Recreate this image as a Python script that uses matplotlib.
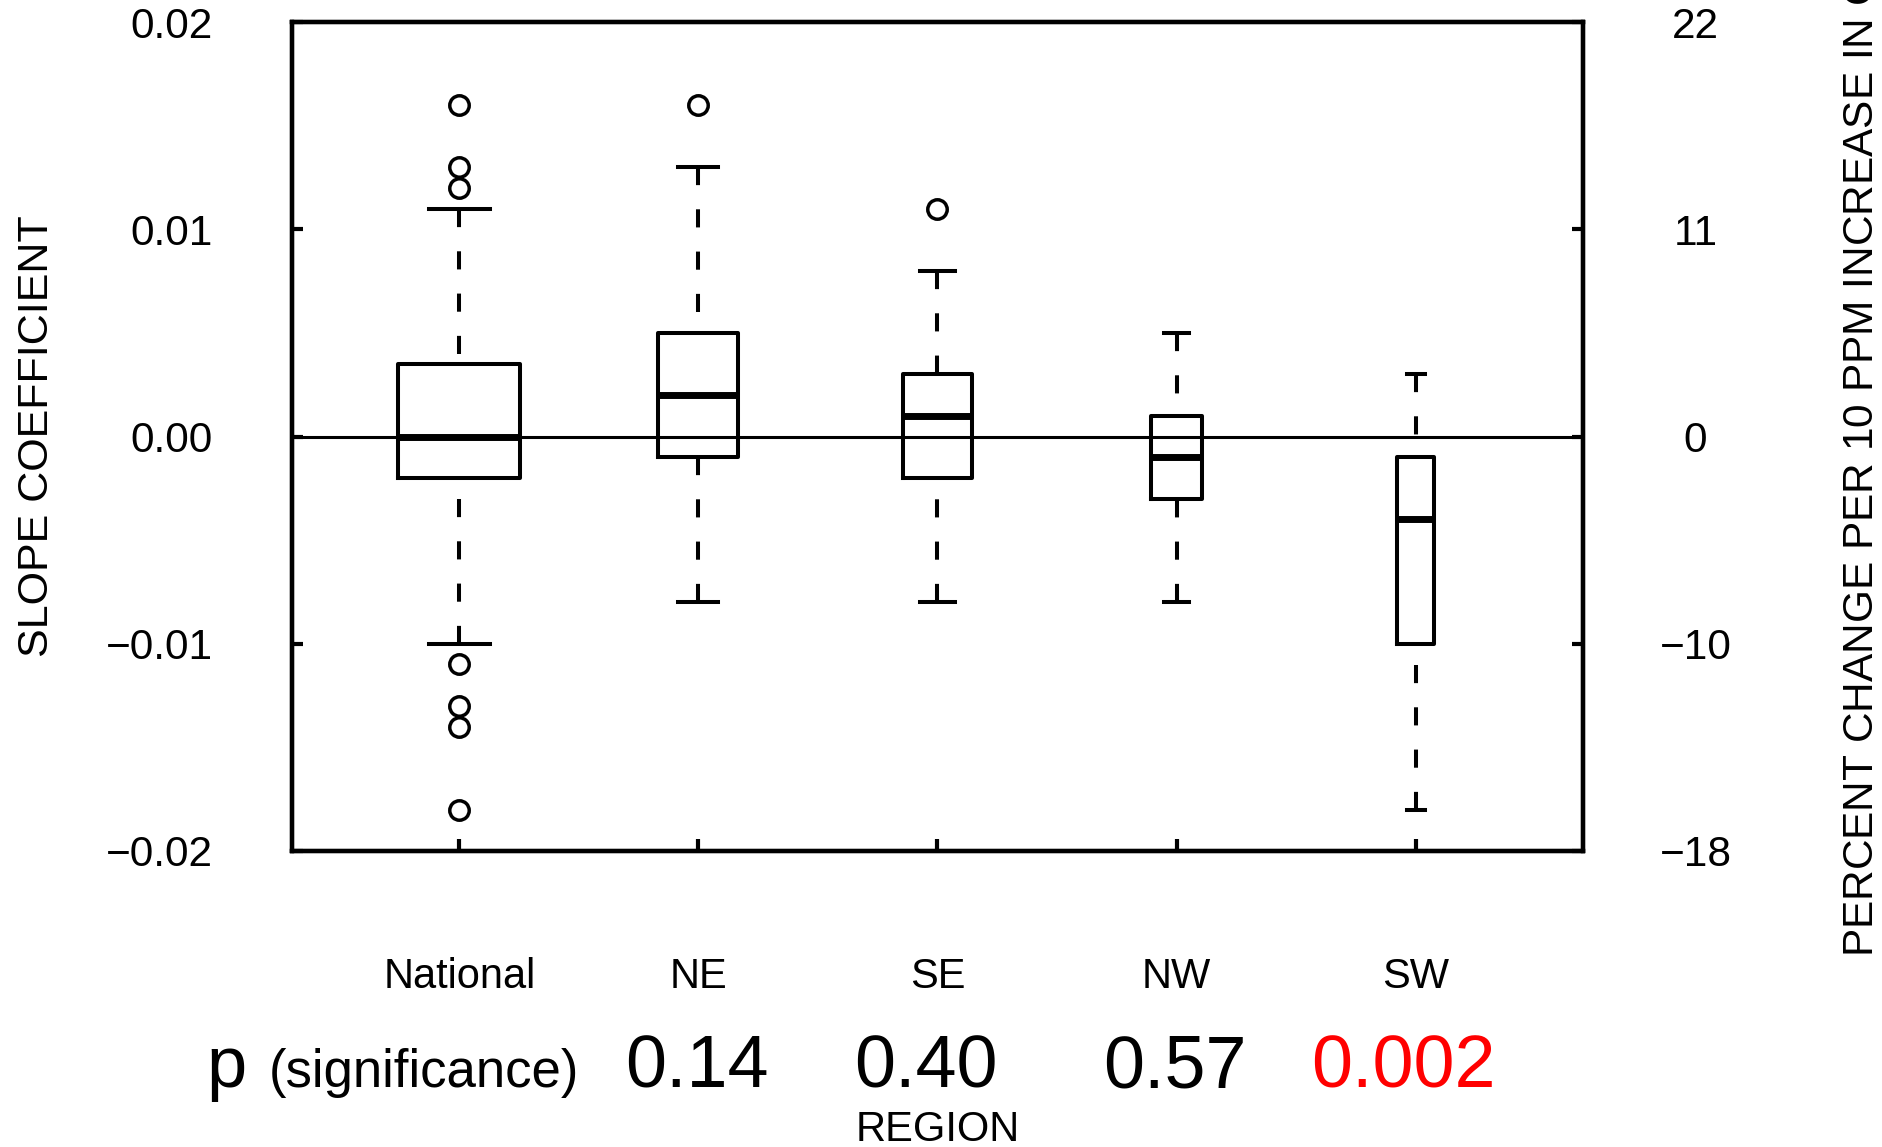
import matplotlib
matplotlib.use("Agg")
import matplotlib.pyplot as plt

plt.rcParams['font.family'] = ['Liberation Sans', 'DejaVu Sans']

# regional slope coefficients (box summaries)
regions = ['National', 'NE', 'SE', 'NW', 'SW']
medians = [0.000, 0.002, 0.001, -0.001, -0.004]
q1s = [-0.002, -0.001, -0.002, -0.003, -0.010]
q3s = [0.0035, 0.005, 0.003, 0.001, -0.001]
whis_lo = [-0.010, -0.008, -0.008, -0.008, -0.018]
whis_hi = [0.011, 0.013, 0.008, 0.005, 0.003]
outliers = [[0.016, 0.013, 0.012, -0.011, -0.013, -0.014, -0.018],
            [0.016],
            [0.011],
            [],
            []]
# box widths scale with sample size
box_widths = [0.51, 0.335, 0.287, 0.216, 0.153]

p_values = ['0.14', '0.40', '0.57', '0.002']
p_colors = ['black', 'black', 'black', '#ff0000']

left_ticks = [-0.02, -0.01, 0.0, 0.01, 0.02]
left_labels = ['\u22120.02', '\u22120.01', '0.00', '0.01', '0.02']
right_labels = ['\u221218', '\u221210', '0', '11', '22']

W, H = 1883, 1147
fig = plt.figure(figsize=(W / 100, H / 100), dpi=100)
ax = fig.add_axes([292 / W, 1 - 851 / H, 1291 / W, 829 / H])

positions = list(range(1, len(regions) + 1))
stats = []
for i in range(len(regions)):
    stats.append({'med': medians[i], 'q1': q1s[i], 'q3': q3s[i],
                  'whislo': whis_lo[i], 'whishi': whis_hi[i],
                  'fliers': outliers[i], 'label': regions[i]})

ax.axhline(0, color='black', lw=2.2, zorder=1)

lw = 2.9
bp = ax.bxp(stats, positions=positions, widths=box_widths,
            capwidths=[w * 0.5 for w in box_widths],
            boxprops=dict(color='black', lw=lw),
            medianprops=dict(color='black', lw=5.0, solid_capstyle='butt'),
            whiskerprops=dict(color='black', lw=lw, linestyle=(0, (4.5, 6.0)),
                              dash_capstyle='butt'),
            capprops=dict(color='black', lw=lw),
            flierprops=dict(marker='o', markerfacecolor='none',
                            markeredgecolor='black', markersize=14,
                            markeredgewidth=2.5, linestyle='none'),
            manage_ticks=False)

# dashes run from the whisker end back to the box
for wl in bp['whiskers']:
    wl.set_ydata(wl.get_ydata()[::-1])

ax.set_xlim(0.3, 5.7)
ax.set_ylim(-0.02, 0.02)
ax.set_xticks(positions)
ax.set_xticklabels(regions)
ax.set_yticks(left_ticks)
ax.set_yticklabels(left_labels)
ax.tick_params(axis='y', direction='in', length=8, width=3.0,
               labelsize=30.5, pad=57)
ax.tick_params(axis='x', direction='in', length=9, width=3.0,
               labelsize=30, pad=76)

ax2 = ax.twinx()
ax2.set_ylim(-0.02, 0.02)
ax2.set_yticks(left_ticks)
ax2.set_yticklabels(right_labels)
ax2.tick_params(axis='y', direction='in', length=8, width=3.0,
                labelsize=30.5, pad=81)
for t in ax2.get_yticklabels():
    t.set_horizontalalignment('center')

for a in (ax, ax2):
    for s in a.spines.values():
        s.set_linewidth(3.1)

ax.set_ylabel('SLOPE COEFFICIENT', fontsize=31)
ax.yaxis.set_label_coords(-0.182, 0.5)

fig.text(1862 / W, 1 - 957 / H, 'PERCENT CHANGE PER 10 PPM INCREASE IN CO$_2$',
         rotation=90, ha='center', va='bottom', fontsize=30.5)

# significance row
base_y = 1 - 1087 / H
fig.text(206 / W, base_y, 'p', fontsize=52, va='baseline', ha='left')
fig.text(269 / W, base_y, '(significance)', fontsize=38, va='baseline', ha='left')
p_x = [696.5, 926, 1174.5, 1403]
for xp, txt, col in zip(p_x, p_values, p_colors):
    fig.text(xp / W, base_y, txt, fontsize=53, color=col,
             va='baseline', ha='center')

fig.text(938 / W, 1 - 1141 / H, 'REGION', fontsize=30, va='baseline', ha='center')

fig.savefig('out.png', dpi=100)
